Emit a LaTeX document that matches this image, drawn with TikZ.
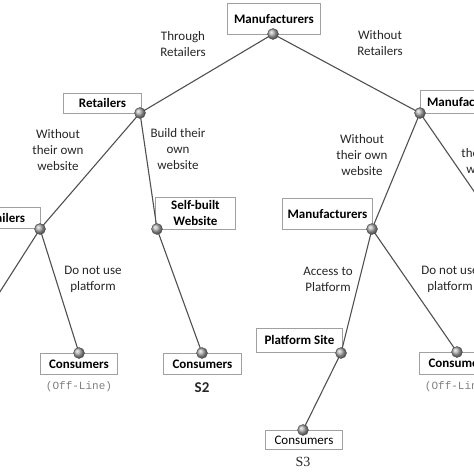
\documentclass[tikz,border=0pt]{standalone}
\usepackage{fontspec}
\setmainfont{Carlito}
\newfontfamily\offfont{Liberation Mono}
\newfontfamily\sfont{Liberation Serif}
\definecolor{edgec}{HTML}{505050}
\definecolor{boxc}{HTML}{A0A0A0}
\definecolor{offc}{HTML}{808080}
\tikzset{
  box/.style={draw=boxc, line width=0.9pt, fill=white, inner sep=0pt, font=\fontsize{13}{16}\selectfont\bfseries, align=center, anchor=north west},
  lbl/.style={font=\fontsize{13}{16}\selectfont, align=center, text=black!85, inner sep=0pt},
  ball/.style={circle, minimum size=11pt, inner sep=0pt, shading=ball, ball color=gray!65, draw=black!70, line width=0.4pt},
  edge/.style={draw=edgec, line width=1.1pt},
  offl/.style={font=\offfont\fontsize{11}{13}\selectfont, text=offc, inner sep=0pt}
}
\begin{document}
\begin{tikzpicture}[x=1pt,y=-1pt]
\useasboundingbox (0,0) rectangle (474,474);
\clip (0,0) rectangle (474,474);
% boxes
\node[box, minimum width=93pt, minimum height=31pt] (mtop) at (227,3) {Manufacturers};
\node[box, minimum width=78pt, minimum height=20pt] (ret) at (63,93) {Retailers};
\node[box, minimum width=93pt, minimum height=23pt] (mright) at (420,90) {Manufacturers};
\node[box, minimum width=78pt, minimum height=21pt] (retl) at (-38,207) {Retailers};
\node[box, minimum width=80pt, minimum height=32pt] (self) at (155,197) {Self-built\\Website};
\node[box, minimum width=90pt, minimum height=31pt] (mmid) at (282,198) {Manufacturers};
\node[box, minimum width=86pt, minimum height=24pt] (plat) at (256,328) {Platform Site};
\node[box, minimum width=77pt, minimum height=21pt] (c1) at (40,353) {Consumers};
\node[box, minimum width=78pt, minimum height=21pt] (c2) at (163,353) {Consumers};
\node[box, minimum width=78pt, minimum height=22pt] (c3) at (419,352) {Consumers};
\node[box, minimum width=77pt, minimum height=19pt, font=\fontsize{13}{16}\selectfont] (c4) at (265,430) {Consumers};
% ball positions
\coordinate (p0) at (273,34);
\coordinate (pR) at (140,113);
\coordinate (pM) at (420,113);
\coordinate (pL) at (40,229);
\coordinate (pS) at (157,229);
\coordinate (pMM) at (372,229);
\coordinate (pC1) at (79,353);
\coordinate (pC2) at (202,353);
\coordinate (pP) at (341,353);
\coordinate (pC3) at (457,352);
\coordinate (pC4) at (303,430);
\coordinate (offL) at (-20,323);
\coordinate (offR) at (500,229);
% edges
\draw[edge] (p0) -- (pR);
\draw[edge] (p0) -- (pM);
\draw[edge] (pR) -- (pL);
\draw[edge] (pR) -- (pS);
\draw[edge] (pL) -- (offL);
\draw[edge] (pL) -- (pC1);
\draw[edge] (pS) -- (pC2);
\draw[edge] (pM) -- (pMM);
\draw[edge] (pM) -- (offR);
\draw[edge] (pMM) -- (pP);
\draw[edge] (pMM) -- (pC3);
\draw[edge] (pP) -- (pC4);
% balls
\foreach \p/\n in {p0/b0,pR/bR,pM/bM,pL/bL,pS/bS,pMM/bMM,pC1/bC1,pC2/bC2,pP/bP,pC3/bC3,pC4/bC4}
  \node[ball] (\n) at (\p) {};
% labels
\node[lbl] (l1) at (183,44) {Through\\Retailers};
\node[lbl] (l2) at (380,43) {Without\\Retailers};
\node[lbl] (l3) at (58,150) {Without\\their own\\website};
\node[lbl] (l4) at (178,149) {Build their\\own\\website};
\node[lbl] (l5) at (362,155) {Without\\their own\\website};
\node[lbl] (l6) at (487,161) {their own\\website};
\node[lbl] (l7) at (93,279) {Do not use\\platform};
\node[lbl] (l8) at (328,279) {Access to\\Platform};
\node[lbl] (l9) at (450,279) {Do not use\\platform};
\node[offl] (o1) at (79,387) {(Off-Line)};
\node[offl] (o2) at (458,387) {(Off-Line)};
\node[lbl, font=\fontsize{15}{16}\selectfont\bfseries] (s2) at (202,388) {S2};
\node[lbl, font=\sfont\fontsize{14}{16}\selectfont] (s3) at (303,462) {S3};
\end{tikzpicture}
\end{document}
